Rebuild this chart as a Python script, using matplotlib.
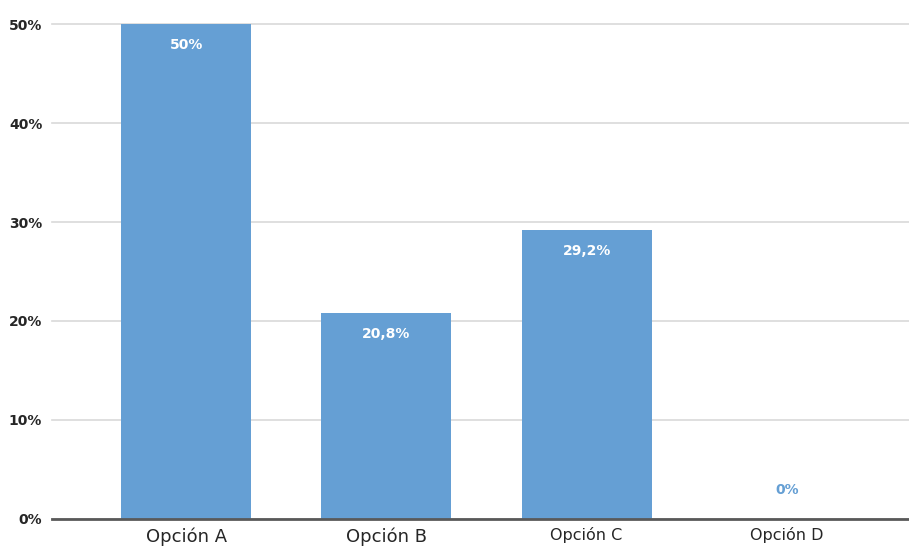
import matplotlib.pyplot as plt
import numpy as np

categories = ['Opción A', 'Opción B', 'Opción C', 'Opción D']
values = [50, 20.8, 29.2, 0]
value_labels = ['50%', '20,8%', '29,2%', '0%']
yticks = [0, 10, 20, 30, 40, 50]
ytick_labels = ['0%', '10%', '20%', '30%', '40%', '50%']

bar_color = '#659FD4'
plt.rcParams['font.family'] = ['DejaVu Sans']

fig = plt.figure(figsize=(9.09, 5.46), dpi=100)
ax = fig.add_axes([0.0572, 0.0495, 0.9428, 0.9065])

x = np.arange(len(categories))
bars = ax.bar(x, values, width=0.65, color=bar_color, zorder=2)

ax.set_xlim(-0.67, 3.61)
ax.set_ylim(0, 50)
ax.set_yticks(yticks)
ax.set_yticklabels(ytick_labels, fontsize=10, fontweight='bold', color='#262626')
ax.set_xticks(x)
ax.set_xticklabels(categories, color='#262626')
# first two category labels are larger in the original
for lbl, sz in zip(ax.get_xticklabels(), [13, 13, 11.5, 11.5]):
    lbl.set_fontsize(sz)

ax.tick_params(axis='both', length=0)
ax.tick_params(axis='y', pad=7)
ax.tick_params(axis='x', pad=6)

ax.grid(axis='y', color='#D9D9D9', linewidth=1.2, zorder=0)
for gl in ax.get_ygridlines():
    gl.set_clip_on(False)

for s in ['top', 'right', 'left']:
    ax.spines[s].set_visible(False)
ax.spines['bottom'].set_color('#595959')
ax.spines['bottom'].set_linewidth(2)
ax.spines['bottom'].set_zorder(3)

for xi, v, lab in zip(x, values, value_labels):
    if v > 0:
        ax.annotate(lab, (xi, v), xytext=(0, -15), textcoords='offset points',
                    ha='center', va='center', color='white', fontsize=10, fontweight='bold')
    else:
        ax.annotate(lab, (xi, v), xytext=(0, 21), textcoords='offset points',
                    ha='center', va='center', color=bar_color, fontsize=10, fontweight='bold')

fig.savefig('out.png', dpi=100)
